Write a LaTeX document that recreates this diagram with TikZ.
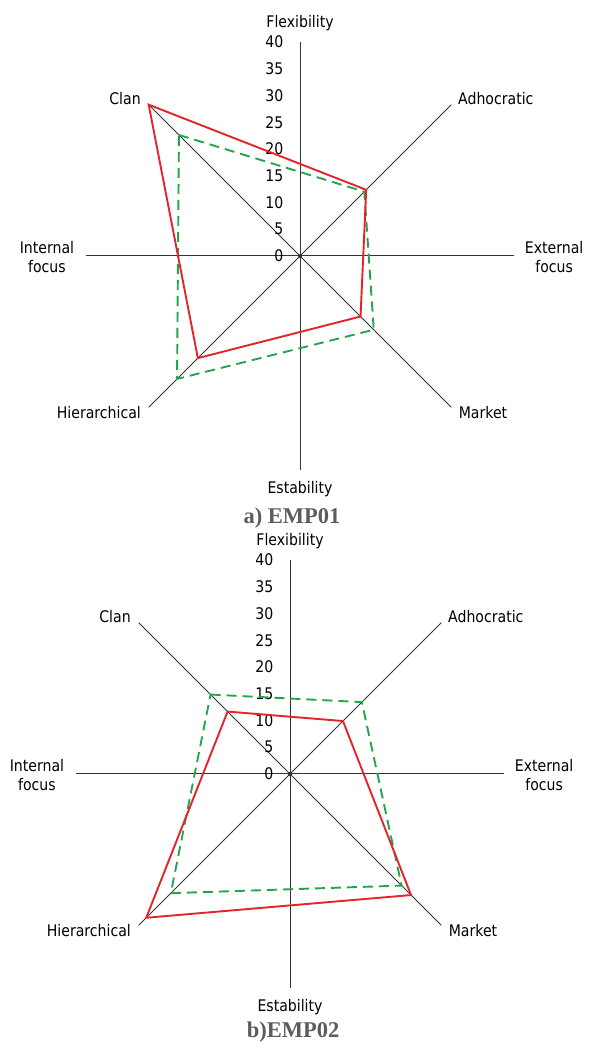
\documentclass[tikz,border=0pt]{standalone}
\usepackage{fontspec}
\newfontfamily\lblfont[FakeStretch=0.88]{DejaVu Sans}
\newfontfamily\capfont{Liberation Serif}
\definecolor{rdline}{HTML}{E5232B}
\definecolor{gnline}{HTML}{23A64B}
\definecolor{axgray}{HTML}{333333}
\definecolor{capgray}{HTML}{5C5C5C}

\tikzset{
  radarframe/.pic={
    \foreach \ang in {0,45,...,315}
      \draw[radaxis] (0,0) -- (\ang:40);
    \fill[axgray] (0,0) circle (2pt);
    \foreach \v in {0,5,...,40}
      \node[ticklbl] (t\v) at (-3.1,\v) {\v};
    \node[lbl] (flex) at (0,43.6) {Flexibility};
    \node[lbl] (clan) at (-32.7,29.4) {Clan};
    \node[lbl] (adho) at (36.6,29.4) {Adhocratic};
    \node[lbl] (intf) at (-47.3,-0.2) {Internal\\focus};
    \node[lbl] (extf) at (47.5,-0.2) {External\\focus};
    \node[lbl] (hier) at (-37.6,-29.3) {Hierarchical};
    \node[lbl] (mark) at (34.2,-29.3) {Market};
    \node[lbl] (esta) at (0,-43.5) {Estability};
  }
}

\begin{document}
\begin{tikzpicture}[x=1pt, y=1pt,
     radaxis/.style={draw=axgray, line width=1pt},
     lbl/.style={font=\lblfont\fontsize{16}{19.3}\selectfont, align=center, inner sep=0pt},
     ticklbl/.style={lbl, anchor=east},
     captxt/.style={font=\capfont\bfseries\fontsize{22.5}{27}\selectfont, text=capgray, inner sep=0pt},
     redline/.style={draw=rdline, line width=1.9pt},
     greenline/.style={draw=gnline, line width=1.9pt, dash pattern=on 10pt off 6pt}]
    \useasboundingbox (0,0) rectangle (591,1048);

    % a) EMP01
    \begin{scope}[shift={(300pt,792pt)}, x=5.35pt, y=5.35pt]
      \pic (ta) {radarframe};
      \coordinate (ag-clan) at (135:32);
      \coordinate (ag-adho) at (45:17);
      \coordinate (ag-mark) at (-45:19.5);
      \coordinate (ag-hier) at (225:32.5);
      \draw[greenline] (ag-clan) -- (ag-adho) -- (ag-mark) -- (ag-hier) -- cycle;
      \coordinate (ar-clan) at (135:40);
      \coordinate (ar-adho) at (45:17.5);
      \coordinate (ar-mark) at (-45:16);
      \coordinate (ar-hier) at (225:27);
      \draw[redline] (ar-clan) -- (ar-adho) -- (ar-mark) -- (ar-hier) -- cycle;
      \node[captxt] (capa) at (-1.5,-49) {a) EMP01};
    \end{scope}

    % b) EMP02
    \begin{scope}[shift={(290pt,274pt)}, x=5.35pt, y=5.35pt]
      \pic (tb) {radarframe};
      \coordinate (bg-clan) at (135:21);
      \coordinate (bg-adho) at (45:19);
      \coordinate (bg-mark) at (-45:29.5);
      \coordinate (bg-hier) at (225:31.5);
      \draw[greenline] (bg-clan) -- (bg-adho) -- (bg-mark) -- (bg-hier) -- cycle;
      \coordinate (br-clan) at (135:16.5);
      \coordinate (br-adho) at (45:14);
      \coordinate (br-mark) at (-45:32);
      \coordinate (br-hier) at (225:38);
      \draw[redline] (br-clan) -- (br-adho) -- (br-mark) -- (br-hier) -- cycle;
      \node[captxt] (capb) at (0.6,-48.2) {b)EMP02};
    \end{scope}
  \end{tikzpicture}
\end{document}
